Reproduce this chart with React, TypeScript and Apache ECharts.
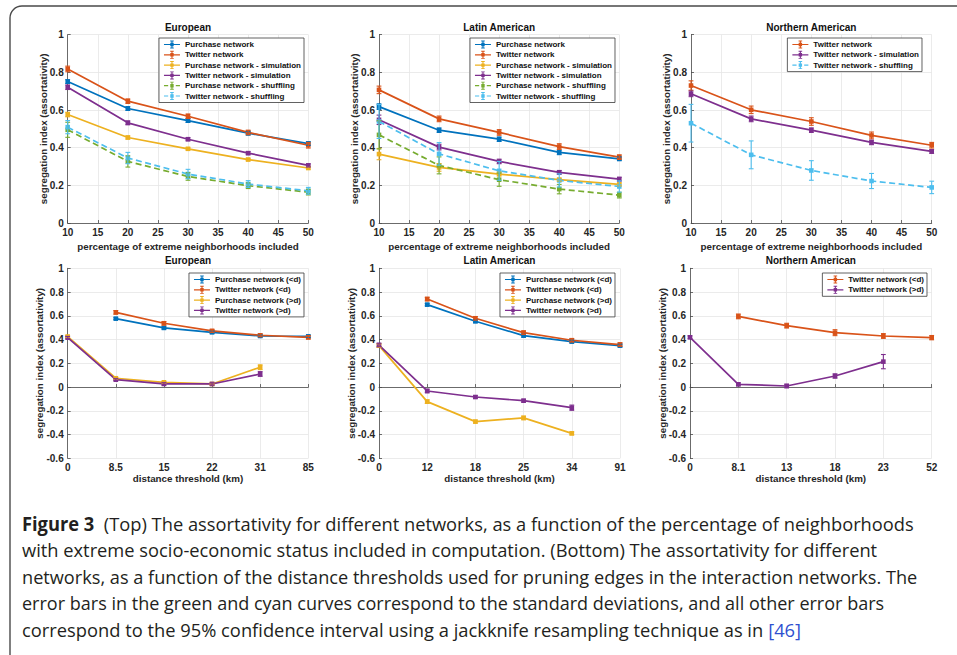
import React, { useEffect, useRef } from 'react';
import * as echarts from 'echarts';

const W = 957;
const H = 655;
const FONT = '"Liberation Sans", Arial, Helvetica, sans-serif';
const CAPTION_FONT = '"Open Sans", "Noto Sans", sans-serif';
const CAPTION_SIZE = 19;

const BLUE = '#0072BD';
const ORANGE = '#D95319';
const YELLOW = '#EDB120';
const PURPLE = '#7E2F8E';
const GREEN = '#77AC30';
const CYAN = '#4DBEEE';

// ---- top row: share of extreme neighborhoods (%) ----
const pctTicks = [10, 20, 30, 40, 50];

const euTopPurchase = [0.751, 0.608, 0.544, 0.477, 0.422];
const euTopTwitter = [0.818, 0.647, 0.567, 0.481, 0.413];
const euTopPurchaseSim = [0.576, 0.454, 0.394, 0.337, 0.292];
const euTopTwitterSim = [0.721, 0.532, 0.445, 0.371, 0.306];
const euTopPurchaseShuf = [0.495, 0.327, 0.247, 0.198, 0.164];
const euTopTwitterShuf = [0.509, 0.345, 0.26, 0.207, 0.171];
const euTopPurchaseErr = [0.01, 0.01, 0.01, 0.01, 0.01];
const euTopTwitterErr = [0.015, 0.012, 0.012, 0.012, 0.015];
const euTopPurchaseSimErr = [0.012, 0.008, 0.006, 0.006, 0.006];
const euTopTwitterSimErr = [0.012, 0.01, 0.008, 0.008, 0.008];
const euTopPurchaseShufErr = [0.04, 0.03, 0.02, 0.015, 0.015];
const euTopTwitterShufErr = [0.035, 0.03, 0.025, 0.018, 0.018];

const laTopPurchase = [0.618, 0.493, 0.445, 0.375, 0.341];
const laTopTwitter = [0.707, 0.553, 0.481, 0.406, 0.35];
const laTopPurchaseSim = [0.366, 0.295, 0.26, 0.23, 0.205];
const laTopTwitterSim = [0.548, 0.403, 0.327, 0.269, 0.233];
const laTopPurchaseShuf = [0.468, 0.306, 0.23, 0.18, 0.148];
const laTopTwitterShuf = [0.539, 0.367, 0.277, 0.226, 0.194];
const laTopPurchaseErr = [0.015, 0.012, 0.012, 0.012, 0.01];
const laTopTwitterErr = [0.02, 0.015, 0.015, 0.015, 0.012];
const laTopPurchaseSimErr = [0.03, 0.02, 0.01, 0.008, 0.008];
const laTopTwitterSimErr = [0.025, 0.015, 0.012, 0.01, 0.01];
const laTopPurchaseShufErr = [0.075, 0.045, 0.035, 0.025, 0.015];
const laTopTwitterShufErr = [0.09, 0.06, 0.05, 0.035, 0.03];

const naTopTwitter = [0.73, 0.601, 0.539, 0.465, 0.413];
const naTopTwitterSim = [0.686, 0.553, 0.493, 0.428, 0.38];
const naTopTwitterShuf = [0.53, 0.362, 0.279, 0.223, 0.189];
const naTopTwitterErr = [0.025, 0.02, 0.02, 0.018, 0.015];
const naTopTwitterSimErr = [0.015, 0.015, 0.012, 0.012, 0.01];
const naTopTwitterShufErr = [0.1, 0.074, 0.052, 0.04, 0.033];

// ---- bottom row: distance thresholds (km) ----
const euDist = ['0', '8.5', '15', '22', '31', '85'];
const euBotPurchaseIn = [null, 0.576, 0.498, 0.461, 0.43, 0.427];
const euBotTwitterIn = [null, 0.629, 0.537, 0.473, 0.436, 0.419];
const euBotPurchaseOut = [0.425, 0.074, 0.04, 0.026, 0.167, null];
const euBotTwitterOut = [0.416, 0.062, 0.026, 0.026, 0.11, null];
const euBotPurchaseInErr = [null, 0.008, 0.01, 0.01, 0.01, 0.01];
const euBotTwitterInErr = [null, 0.015, 0.015, 0.012, 0.012, 0.015];
const euBotPurchaseOutErr = [0.01, 0.008, 0.008, 0.008, 0.02, null];
const euBotTwitterOutErr = [0.01, 0.008, 0.01, 0.01, 0.02, null];

const laDist = ['0', '12', '18', '25', '34', '91'];
const laBotPurchaseIn = [null, 0.694, 0.554, 0.433, 0.383, 0.349];
const laBotTwitterIn = [null, 0.741, 0.579, 0.458, 0.394, 0.358];
const laBotPurchaseOut = [0.349, -0.123, -0.291, -0.26, -0.39, null];
const laBotTwitterOut = [0.354, -0.033, -0.084, -0.115, -0.174, null];
const laBotPurchaseInErr = [null, 0.01, 0.012, 0.012, 0.012, 0.012];
const laBotTwitterInErr = [null, 0.015, 0.015, 0.015, 0.015, 0.015];
const laBotPurchaseOutErr = [0.015, 0.015, 0.012, 0.015, 0.012, null];
const laBotTwitterOutErr = [0.015, 0.015, 0.012, 0.012, 0.022, null];

const naDist = ['0', '8.1', '13', '18', '23', '52'];
const naBotTwitterIn = [null, 0.595, 0.517, 0.458, 0.43, 0.416];
const naBotTwitterOut = [0.419, 0.023, 0.009, 0.093, 0.214, null];
const naBotTwitterInErr = [null, 0.02, 0.02, 0.025, 0.02, 0.018];
const naBotTwitterOutErr = [0.012, 0.012, 0.015, 0.018, 0.06, null];

// ---- caption ----
const captionLines = [
  { bold: 'Figure 3', text: '  (Top) The assortativity for different networks, as a function of the percentage of neighborhoods' },
  { text: 'with extreme socio-economic status included in computation. (Bottom) The assortativity for different' },
  { text: 'networks, as a function of the distance thresholds used for pruning edges in the interaction networks. The' },
  { text: 'error bars in the green and cyan curves correspond to the standard deviations, and all other error bars' },
  { text: 'correspond to the 95% confidence interval using a jackknife resampling technique as in ', ref: '[46]' },
];
const CAPTION_LEFT = 22;
const captionRight = [914, 878, 918, 884, 801];
const captionY = [523, 549.5, 576, 602, 629];

type Val = number | null;
type LineDef = { name: string; values: Val[]; errs: Val[]; color: string; dashed?: boolean };
type Panel = {
  title: string;
  kind: 'pct' | 'dist';
  cats?: string[];
  lines: LineDef[];
  grid: { left: number; top: number; width: number; height: number };
  legendRight: number;
  legendTop: number;
};

const TOP_Y = 34.7;
const TOP_H = 188.3;
const BOT_Y = 268.3;
const BOT_H = 190;

const panels: Panel[] = [
  {
    title: 'European', kind: 'pct',
    grid: { left: 67.7, top: TOP_Y, width: 240.6, height: TOP_H }, legendRight: W - 304, legendTop: 38,
    lines: [
      { name: 'Purchase network', values: euTopPurchase, errs: euTopPurchaseErr, color: BLUE },
      { name: 'Twitter network', values: euTopTwitter, errs: euTopTwitterErr, color: ORANGE },
      { name: 'Purchase network - simulation', values: euTopPurchaseSim, errs: euTopPurchaseSimErr, color: YELLOW },
      { name: 'Twitter network - simulation', values: euTopTwitterSim, errs: euTopTwitterSimErr, color: PURPLE },
      { name: 'Purchase network - shuffling', values: euTopPurchaseShuf, errs: euTopPurchaseShufErr, color: GREEN, dashed: true },
      { name: 'Twitter network - shuffling', values: euTopTwitterShuf, errs: euTopTwitterShufErr, color: CYAN, dashed: true },
    ],
  },
  {
    title: 'Latin American', kind: 'pct',
    grid: { left: 379, top: TOP_Y, width: 240.3, height: TOP_H }, legendRight: W - 615, legendTop: 38,
    lines: [
      { name: 'Purchase network', values: laTopPurchase, errs: laTopPurchaseErr, color: BLUE },
      { name: 'Twitter network', values: laTopTwitter, errs: laTopTwitterErr, color: ORANGE },
      { name: 'Purchase network - simulation', values: laTopPurchaseSim, errs: laTopPurchaseSimErr, color: YELLOW },
      { name: 'Twitter network - simulation', values: laTopTwitterSim, errs: laTopTwitterSimErr, color: PURPLE },
      { name: 'Purchase network - shuffling', values: laTopPurchaseShuf, errs: laTopPurchaseShufErr, color: GREEN, dashed: true },
      { name: 'Twitter network - shuffling', values: laTopTwitterShuf, errs: laTopTwitterShufErr, color: CYAN, dashed: true },
    ],
  },
  {
    title: 'Northern American', kind: 'pct',
    grid: { left: 691, top: TOP_Y, width: 240.7, height: TOP_H }, legendRight: W - 922, legendTop: 38,
    lines: [
      { name: 'Twitter network', values: naTopTwitter, errs: naTopTwitterErr, color: ORANGE },
      { name: 'Twitter network - simulation', values: naTopTwitterSim, errs: naTopTwitterSimErr, color: PURPLE },
      { name: 'Twitter network - shuffling', values: naTopTwitterShuf, errs: naTopTwitterShufErr, color: CYAN, dashed: true },
    ],
  },
  {
    title: 'European', kind: 'dist', cats: euDist,
    grid: { left: 67.7, top: BOT_Y, width: 240.6, height: BOT_H }, legendRight: W - 304, legendTop: 273,
    lines: [
      { name: 'Purchase network (<d)', values: euBotPurchaseIn, errs: euBotPurchaseInErr, color: BLUE },
      { name: 'Twitter network (<d)', values: euBotTwitterIn, errs: euBotTwitterInErr, color: ORANGE },
      { name: 'Purchase network (>d)', values: euBotPurchaseOut, errs: euBotPurchaseOutErr, color: YELLOW },
      { name: 'Twitter network (>d)', values: euBotTwitterOut, errs: euBotTwitterOutErr, color: PURPLE },
    ],
  },
  {
    title: 'Latin American', kind: 'dist', cats: laDist,
    grid: { left: 379, top: BOT_Y, width: 241, height: BOT_H }, legendRight: W - 615, legendTop: 273,
    lines: [
      { name: 'Purchase network (<d)', values: laBotPurchaseIn, errs: laBotPurchaseInErr, color: BLUE },
      { name: 'Twitter network (<d)', values: laBotTwitterIn, errs: laBotTwitterInErr, color: ORANGE },
      { name: 'Purchase network (>d)', values: laBotPurchaseOut, errs: laBotPurchaseOutErr, color: YELLOW },
      { name: 'Twitter network (>d)', values: laBotTwitterOut, errs: laBotTwitterOutErr, color: PURPLE },
    ],
  },
  {
    title: 'Northern American', kind: 'dist', cats: naDist,
    grid: { left: 690, top: BOT_Y, width: 241.7, height: BOT_H }, legendRight: W - 927, legendTop: 273,
    lines: [
      { name: 'Twitter network (<d)', values: naBotTwitterIn, errs: naBotTwitterInErr, color: ORANGE },
      { name: 'Twitter network (>d)', values: naBotTwitterOut, errs: naBotTwitterOutErr, color: PURPLE },
    ],
  },
];

// Legend glyphs: a short line with an error-bar marker in the middle
const ERR_GLYPH = 'M7.45,1h1.1v8h-1.1z M6.2,1h3.6v0.9h-3.6z M6.2,8.1h3.6v0.9h-3.6z M6.3,3.3h3.4v3.4h-3.4z';
const SOLID_ICON = 'path://M0,4.4h16v1.2h-16z ' + ERR_GLYPH;
const DASHED_ICON = 'path://M0,4.4h4.2v1.2h-4.2z M11.8,4.4h4.2v1.2h-4.2z ' + ERR_GLYPH;

const AXIS_COLOR = '#4a4a4a';
const LABEL_COLOR = '#262626';
const GRID_COLOR = '#e6e6e6';

function measureCaption(): number[] {
  const ctx = document.createElement('canvas').getContext('2d');
  return captionLines.map((line, i) => {
    const target = captionRight[i] - CAPTION_LEFT;
    if (!ctx) return 0.82;
    let w = 0;
    ctx.font = `${CAPTION_SIZE}px ${CAPTION_FONT}`;
    w += ctx.measureText(line.text).width;
    if (line.ref) w += ctx.measureText(line.ref).width;
    if (line.bold) {
      ctx.font = `bold ${CAPTION_SIZE}px ${CAPTION_FONT}`;
      w += ctx.measureText(line.bold).width;
    }
    return w > 0 ? target / w : 0.82;
  });
}

function errorBarSeries(p: number, color: string, data: number[][]) {
  return {
    type: 'custom',
    xAxisIndex: p,
    yAxisIndex: p,
    silent: true,
    z: 4,
    data,
    encode: { x: 0, y: [1, 2] },
    renderItem: (_params: any, api: any) => {
      const x = api.value(0);
      const lo = api.coord([x, api.value(1)]);
      const hi = api.coord([x, api.value(2)]);
      const cw = 2.4;
      const style = { stroke: color, lineWidth: 1.1 };
      return {
        type: 'group',
        children: [
          { type: 'line', shape: { x1: lo[0], y1: lo[1], x2: hi[0], y2: hi[1] }, style },
          { type: 'line', shape: { x1: lo[0] - cw, y1: lo[1], x2: lo[0] + cw, y2: lo[1] }, style },
          { type: 'line', shape: { x1: hi[0] - cw, y1: hi[1], x2: hi[0] + cw, y2: hi[1] }, style },
        ],
      };
    },
  };
}

function buildOption(scales: number[]) {
  const grid: any[] = [];
  const xAxis: any[] = [];
  const yAxis: any[] = [];
  const legend: any[] = [];
  const series: any[] = [];
  const graphic: any[] = [];

  const tickLabel = { fontSize: 10, fontWeight: 'bold', color: LABEL_COLOR, fontFamily: FONT, margin: 4 };
  const nameStyle = { fontSize: 9.8, fontWeight: 'bold', color: LABEL_COLOR, fontFamily: FONT };
  const axisLine = { show: true, lineStyle: { color: AXIS_COLOR, width: 0.8 } };
  const axisTick = { show: true, inside: true, length: 3, lineStyle: { color: AXIS_COLOR, width: 0.8 } };
  const splitLine = { show: true, lineStyle: { color: GRID_COLOR, width: 0.8 } };

  panels.forEach((panel, p) => {
    grid.push({ ...panel.grid, containLabel: false });
    const pct = panel.kind === 'pct';
    if (pct) {
      xAxis.push({
        gridIndex: p, type: 'value', min: 10, max: 50, interval: 5,
        axisLine, axisTick, splitLine, axisLabel: tickLabel,
        name: 'percentage of extreme neighborhoods included', nameLocation: 'middle', nameGap: 18,
        nameTextStyle: nameStyle,
      });
    } else {
      xAxis.push({
        gridIndex: p, type: 'category', data: panel.cats, boundaryGap: false,
        axisLine, axisTick: { ...axisTick, interval: 0 }, splitLine: { ...splitLine, interval: 0 },
        axisLabel: { ...tickLabel, interval: 0 },
        name: 'distance threshold (km)', nameLocation: 'middle', nameGap: 14.5,
        nameTextStyle: nameStyle,
      });
    }
    yAxis.push({
      gridIndex: p, type: 'value', min: pct ? 0 : -0.6, max: 1, interval: 0.2,
      axisLine, axisTick, splitLine, axisLabel: tickLabel,
      name: 'segregation index (assortativity)', nameLocation: 'middle', nameGap: pct ? 19.5 : 23,
      nameMoveOverlap: false,
      nameTextStyle: nameStyle,
    });

    legend.push({
      show: true, orient: 'vertical', right: panel.legendRight, top: panel.legendTop,
      data: panel.lines.map((l) => ({ name: l.name, icon: l.dashed ? DASHED_ICON : SOLID_ICON })),
      itemWidth: 16, itemHeight: 10, itemGap: 0.3,
      padding: [1.5, 3, 1.5, 5],
      borderColor: '#3a3a3a', borderWidth: 0.8, backgroundColor: '#ffffff',
      itemStyle: { borderWidth: 0 },
      textStyle: { fontSize: 8, fontWeight: 'bold', color: '#111', fontFamily: FONT, lineHeight: 10 },
      selectedMode: false, z: 10,
    });

    graphic.push({
      type: 'text', x: panel.grid.left + panel.grid.width / 2, y: panel.grid.top - 7.5,
      style: {
        text: panel.title, fontSize: 10, fontWeight: 'bold', fontFamily: FONT, fill: '#111',
        align: 'center', verticalAlign: 'middle',
      },
      silent: true,
    });

    panel.lines.forEach((l) => {
      const xs = pct ? pctTicks : l.values.map((_, j) => j);
      series.push({
        type: 'line', name: l.name, xAxisIndex: p, yAxisIndex: p,
        data: pct ? l.values.map((v, j) => [pctTicks[j], v]) : l.values,
        symbol: 'rect', symbolSize: 4.6, showSymbol: true, connectNulls: false,
        itemStyle: { color: l.color },
        lineStyle: { color: l.color, width: 1.7, type: l.dashed ? [6, 3.5] : 'solid' },
        emphasis: { disabled: true }, silent: true, z: 3,
      });
      const errData: number[][] = [];
      l.values.forEach((v, j) => {
        const e = l.errs[j];
        if (v != null && e != null) errData.push([xs[j], v - e, v + e]);
      });
      series.push(errorBarSeries(p, l.color, errData));
    });
  });

  // rounded frame around the figure
  graphic.push({
    type: 'rect', silent: true, z: -1,
    shape: { x: 10, y: 6, width: 970, height: 662, r: 12 },
    style: { fill: 'none', stroke: '#4a4a4a', lineWidth: 1.4 },
  });

  captionLines.forEach((line, i) => {
    let text = '';
    if (line.bold) text += `{b|${line.bold}}`;
    text += line.text;
    if (line.ref) text += `{l|${line.ref}}`;
    graphic.push({
      type: 'text', x: CAPTION_LEFT, y: captionY[i], scaleX: scales[i], silent: true,
      style: {
        text, fontSize: CAPTION_SIZE, fontFamily: CAPTION_FONT, fill: '#231f20',
        align: 'left', verticalAlign: 'middle',
        rich: {
          b: { fontSize: CAPTION_SIZE, fontFamily: CAPTION_FONT, fontWeight: 'bold', fill: '#231f20' },
          l: { fontSize: CAPTION_SIZE, fontFamily: CAPTION_FONT, fill: '#2f4fd0' },
        },
      },
    });
  });

  return { animation: false, backgroundColor: '#ffffff', grid, xAxis, yAxis, legend, series, graphic };
}

export default function App() {
  const ref = useRef<HTMLDivElement>(null);
  useEffect(() => {
    if (!ref.current) return;
    const chart = echarts.init(ref.current, undefined, { renderer: 'svg' });
    chart.setOption(buildOption(measureCaption()));
    return () => chart.dispose();
  }, []);
  return (
    <div
      ref={ref}
      style={{ position: 'fixed', left: 0, top: 0, width: W, height: H, background: '#ffffff' }}
    />
  );
}
